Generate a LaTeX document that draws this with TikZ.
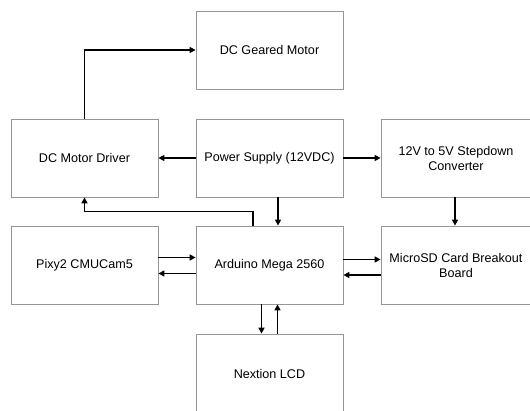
\documentclass[tikz,border=0pt]{standalone}
\usepackage{fontspec}
\setmainfont{Liberation Sans}
\usetikzlibrary{arrows.meta}
\definecolor{boxgray}{RGB}{150,150,150}
\begin{document}
\begin{tikzpicture}[x=1pt,y=-1pt,
  blockbox/.style={draw=boxgray, line width=0.8pt, fill=white, minimum width=147pt, minimum height=78pt, inner sep=0pt, align=center, font=\fontsize{12.6}{15}\selectfont},
  conn/.style={line width=1.6pt, -{Triangle[length=6pt,width=6pt]}}]
\useasboundingbox (0,0) rectangle (530,411);
\clip (0,0) rectangle (530,411);
\fill[white] (0,0) rectangle (530,411);
\node[blockbox] (motor) at (269.5,50) {DC Geared Motor};
\node[blockbox] (driver) at (84.5,158) {DC Motor Driver};
\node[blockbox] (power) at (269.5,158) {Power Supply (12VDC)};
\node[blockbox, minimum width=150pt] (step) at (456,158) {12V to 5V Stepdown\\Converter};
\node[blockbox] (pixy) at (84.5,265) {Pixy2 CMUCam5};
\node[blockbox] (arduino) at (269.5,265) {Arduino Mega 2560};
\node[blockbox, minimum width=150pt] (sd) at (456,265) {MicroSD Card Breakout\\Board};
\node[blockbox, minimum height=80pt] (lcd) at (269.5,374) {Nextion LCD};
\draw[conn] (driver.north) |- (motor.west);
\draw[conn] (power.west) -- (driver.east);
\draw[conn] (power.east) -- (step.west);
\draw[conn] ([xshift=8.5pt]power.south) -- ([xshift=8.5pt]arduino.north);
\draw[conn] ([xshift=-1pt]step.south) -- ([xshift=-1pt]sd.north);
\draw[conn] ([xshift=-16.5pt]arduino.north) -- ++(0,-14) -| (driver.south);
\draw[conn] ([yshift=7.5pt]pixy.east) -- ([yshift=7.5pt]arduino.west);
\draw[conn] ([yshift=-8.5pt]arduino.west) -- ([yshift=-8.5pt]pixy.east);
\draw[conn] ([yshift=5.5pt]arduino.east) -- ([yshift=5.5pt]sd.west);
\draw[conn] ([yshift=-10pt]sd.west) -- ([yshift=-10pt]arduino.east);
\draw[conn] ([xshift=-8pt]arduino.south) -- ([xshift=-8pt]lcd.north);
\draw[conn] ([xshift=8pt]lcd.north) -- ([xshift=8pt]arduino.south);
\end{tikzpicture}
\end{document}
